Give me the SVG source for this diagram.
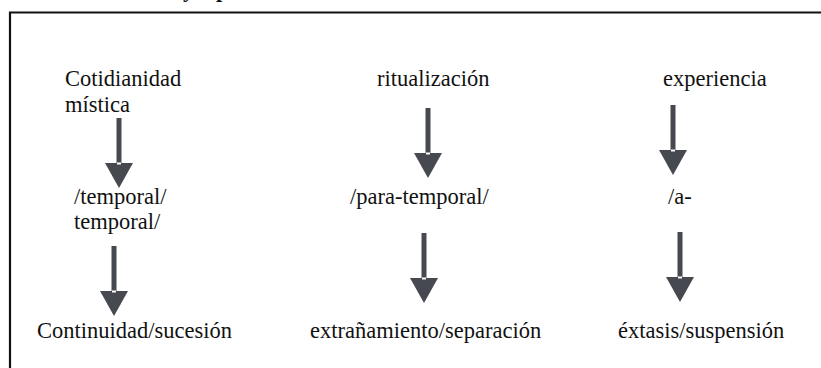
<svg xmlns="http://www.w3.org/2000/svg" width="821" height="368" viewBox="0 0 821 368">
<defs>
<style>
text{font-family:"Liberation Serif","Times New Roman",serif;font-size:22.5px;fill:#111}
.t{font-weight:bold}
.shaft,.head{fill:#464a50}
.notch{fill:#ffffff}
</style>
<g id="arrow">
<rect class="shaft" x="-2.5" y="0" width="5" height="46"/>
<polygon class="head" points="-14,45 14,45 0,70"/>
<rect class="notch" x="-2" y="44.5" width="4" height="2"/>
</g>
</defs>
<rect width="821" height="368" fill="#fff"/>
<text class="t" x="183" y="-3">y</text>
<text class="t" x="216" y="-3">p</text>
<path d="M10,368 V12.5 H821" fill="none" stroke="#111" stroke-width="2.2"/>
<g id="n1"><text x="65" y="86">Cotidianidad</text><text x="65" y="112">mística</text></g>
<g id="n2"><text x="74" y="204">/temporal/</text><text x="74" y="229">temporal/</text></g>
<g id="n3"><text x="37" y="338">Continuidad/sucesión</text></g>
<g id="n4"><text x="377" y="86">ritualización</text></g>
<g id="n5"><text x="350" y="204">/para-temporal/</text></g>
<g id="n6"><text x="310" y="338">extrañamiento/separación</text></g>
<g id="n7"><text x="663" y="86">experiencia</text></g>
<g id="n8"><text x="668" y="204">/a-</text></g>
<g id="n9"><text x="618" y="338">éxtasis/suspensión</text></g>
<g id="connectors">
<use href="#arrow" x="119" y="118"/>
<use href="#arrow" x="114" y="246"/>
<use href="#arrow" x="428" y="108"/>
<use href="#arrow" x="424" y="233"/>
<use href="#arrow" x="673" y="105"/>
<use href="#arrow" x="680" y="232"/>
</g>
</svg>
